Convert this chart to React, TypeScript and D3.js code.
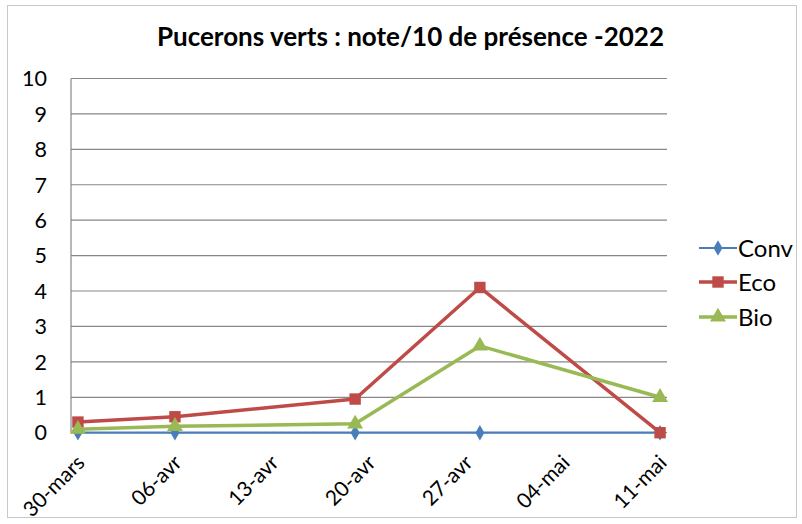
import React from "react";
import * as d3 from "d3";

const dates = ["2022-03-30", "2022-04-06", "2022-04-19", "2022-04-28", "2022-05-11"];
const conv = [0, 0, 0, 0, 0];
const eco = [0.3, 0.45, 0.95, 4.1, 0];
const bio = [0.1, 0.18, 0.25, 2.45, 1.0];
const tickDates = ["2022-03-30", "2022-04-06", "2022-04-13", "2022-04-20", "2022-04-27", "2022-05-04", "2022-05-11"];
const tickLabels = ["30-mars", "06-avr", "13-avr", "20-avr", "27-avr", "04-mai", "11-mai"];
const yTicks = [0, 1, 2, 3, 4, 5, 6, 7, 8, 9, 10];
const seriesNames = ["Conv", "Eco", "Bio"];
const title = "Pucerons verts : note/10 de présence -2022";

const W = 802, H = 524;
const left = 71, right = 667, top = 78.5, bottom = 432.7;
const FONT = "Lato, 'Open Sans', sans-serif";

const parse = d3.utcParse("%Y-%m-%d");

export default function App() {
  const d0 = parse(dates[0])!;
  const d1 = parse(dates[dates.length - 1])!;
  const x = d3.scaleUtc()
    .domain([d3.utcHour.offset(d0, -12), d3.utcHour.offset(d1, 12)])
    .range([left, right]);
  const y = d3.scaleLinear().domain([0, 10]).range([bottom, top]);

  const series = [
    { name: seriesNames[0], values: conv, color: "#4A7EBB", width: 2.2, marker: "diamond" },
    { name: seriesNames[1], values: eco, color: "#BE4B48", width: 3.5, marker: "square" },
    { name: seriesNames[2], values: bio, color: "#98B954", width: 3.5, marker: "triangle" },
  ];

  const line = d3.line<[Date, number]>().x(d => x(d[0])).y(d => y(d[1]));

  const symbolFor = (m: string) => {
    if (m === "diamond") return d3.symbol(d3.symbolDiamond, 70)();
    if (m === "square") return d3.symbol(d3.symbolSquare, 130)();
    return d3.symbol(d3.symbolTriangle, 110)();
  };

  const legendY = [248, 282, 317];

  return (
    <svg width={W} height={H} style={{ position: "absolute", left: 0, top: 0, background: "#fff" }}>
      <rect x={7.5} y={5.5} width={789} height={512} fill="#fff" stroke="#c8c8c8" strokeWidth={1} />
      <text x={(155 + 666) / 2} y={46} textAnchor="middle" fontFamily={FONT} fontWeight="bold" fontSize={26} fill="#000">
        {title}
      </text>
      {yTicks.map(t => (
        <g key={t}>
          <line x1={left} x2={right} y1={y(t)} y2={y(t)} stroke="#878787" strokeWidth={1.2} />
          <text x={47} y={y(t)} dy="0.36em" textAnchor="end" fontFamily={FONT} fontSize={21.5} fill="#000">{t}</text>
        </g>
      ))}
      <line x1={left} x2={left} y1={top} y2={bottom} stroke="#878787" strokeWidth={1.2} />
      {tickDates.map((td, i) => {
        const tx = x(parse(td)!);
        return (
          <text key={td} transform={`translate(${tx + 8},${464}) rotate(-45)`} textAnchor="end" fontFamily={FONT} fontSize={21} fill="#000">
            {tickLabels[i]}
          </text>
        );
      })}
      {series.map(s => {
        const pts: [Date, number][] = dates.map((d, i) => [parse(d)!, s.values[i]]);
        return (
          <g key={s.name}>
            <path d={line(pts)!} fill="none" stroke={s.color} strokeWidth={s.width} strokeLinejoin="round" />
            {pts.map((p, i) => (
              <path key={i} d={symbolFor(s.marker)!} transform={`translate(${x(p[0])},${y(p[1])})`} fill={s.color} />
            ))}
          </g>
        );
      })}
      {series.map((s, i) => (
        <g key={s.name} transform={`translate(0,${legendY[i]})`}>
          <line x1={699} x2={737} y1={0} y2={0} stroke={s.color} strokeWidth={s.width} />
          <path d={symbolFor(s.marker)!} transform="translate(718,0)" fill={s.color} />
          <text x={738} y={0} dy="0.36em" fontFamily={FONT} fontSize={24} fill="#000">{s.name}</text>
        </g>
      ))}
    </svg>
  );
}
